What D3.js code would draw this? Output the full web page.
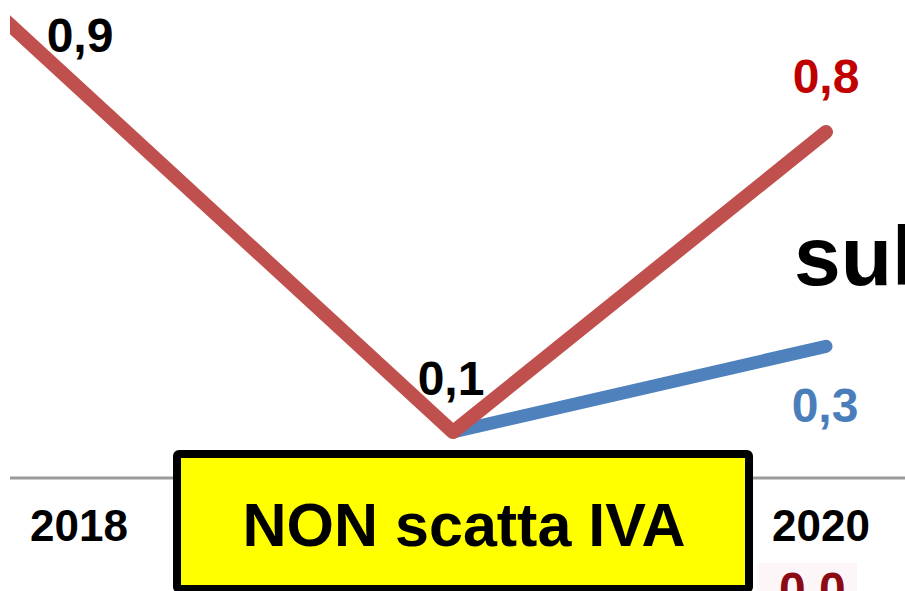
<!DOCTYPE html>
<html>
<head>
<meta charset="utf-8">
<script src="https://cdn.jsdelivr.net/npm/d3@7"></script>
<style>
  html, body { margin: 0; padding: 0; background: #fff; overflow: hidden; }
  svg { display: block; font-family: Arial, "Liberation Sans", sans-serif; font-weight: bold; }
</style>
</head>
<body>
<svg id="chart" width="905" height="591"></svg>
<script>
// Categories (the first one lies off the left edge of the visible crop)
const categories = ["2017", "2018", "2019", "2020"];
const shownYears = ["2018", "2020"];
// Red series (the first value is an estimate from the visible slope)
const redValues = [1.7, 0.9, 0.1, 0.8];
// Blue series (only 2019 and 2020)
const blueCategories = ["2019", "2020"];
const blueValues = [0.1, 0.3];
// Value labels
const redLabels = ["", "0,9", "0,1", "0,8"];
const blueLabels = ["", "0,3"];
const boxText = "NON scatta IVA";
const sideText = "sul";
const cutLabel = "0,0";

const svg = d3.select("#chart");
const W = 905, H = 591;

const x = d3.scalePoint().domain(categories).range([-293, 826]);
const y = d3.scaleLinear().domain([0, 1]).range([474.9, 46.3]);

const red = "#c0504d", blue = "#4f81bd";

svg.append("defs").append("clipPath").attr("id", "plotclip")
  .append("rect").attr("x", 10).attr("y", 0).attr("width", W - 10).attr("height", H);

// axis baseline
svg.append("line")
  .attr("x1", 10).attr("x2", W)
  .attr("y1", y(0) + 3).attr("y2", y(0) + 3)
  .attr("stroke", "#9a9a9a").attr("stroke-width", 3);

// year labels
svg.selectAll("text.year").data(shownYears).enter().append("text")
  .attr("class", "year")
  .attr("x", d => x(d) + (d === "2020" ? -5 : -1))
  .attr("y", 541)
  .attr("text-anchor", "middle")
  .attr("font-size", 44)
  .attr("fill", "#000")
  .text(d => d);

const line = d3.line().x(d => x(d.c)).y(d => y(d.v));

const redData = categories.map((c, i) => ({ c, v: redValues[i], l: redLabels[i] }));
const blueData = blueCategories.map((c, i) => ({ c, v: blueValues[i], l: blueLabels[i] }));

const g = svg.append("g").attr("clip-path", "url(#plotclip)");

g.append("path").datum(blueData)
  .attr("d", line).attr("fill", "none")
  .attr("stroke", blue).attr("stroke-width", 13)
  .attr("stroke-linecap", "round").attr("stroke-linejoin", "round");

g.append("path").datum(redData)
  .attr("d", line).attr("fill", "none")
  .attr("stroke", red).attr("stroke-width", 14)
  .attr("stroke-linecap", "round").attr("stroke-linejoin", "round");

// red labels
svg.selectAll("text.rl").data(redData.filter(d => d.l)).enter().append("text")
  .attr("class", "rl")
  .attr("x", d => x(d.c) - (d.c === "2019" ? 2 : 0))
  .attr("y", d => y(d.v) - (d.c === "2020" ? 39 : 37))
  .attr("text-anchor", "middle")
  .attr("font-size", 48)
  .attr("fill", d => d.c === "2020" ? "#c00000" : "#000")
  .text(d => d.l);

// blue labels
svg.selectAll("text.bl").data(blueData.filter(d => d.l)).enter().append("text")
  .attr("class", "bl")
  .attr("x", d => x(d.c) - 1)
  .attr("y", d => y(d.v) + 76)
  .attr("text-anchor", "middle")
  .attr("font-size", 48)
  .attr("fill", "#4a7ebb")
  .text(d => d.l);

// side text "sul" (cut off at right edge, as in the reference)
svg.append("text")
  .attr("x", 794).attr("y", 285)
  .attr("font-size", 84)
  .attr("fill", "#000")
  .text(sideText);

// cut-off red label bottom right (as in the reference)
svg.append("rect")
  .attr("x", 757).attr("y", 563).attr("width", 100).attr("height", 28)
  .attr("fill", "#fdf6f8");
svg.append("text")
  .attr("x", 779).attr("y", 606)
  .attr("font-size", 48)
  .attr("fill", "#8b0a14")
  .text(cutLabel);

// yellow box
svg.append("rect")
  .attr("x", 177).attr("y", 454).attr("width", 572).attr("height", 135)
  .attr("fill", "#ffff00").attr("stroke", "#000").attr("stroke-width", 8)
  .attr("rx", 2);

svg.append("text")
  .attr("x", 464).attr("y", 546)
  .attr("text-anchor", "middle")
  .attr("font-size", 61)
  .attr("fill", "#000")
  .text(boxText);
</script>
</body>
</html>
